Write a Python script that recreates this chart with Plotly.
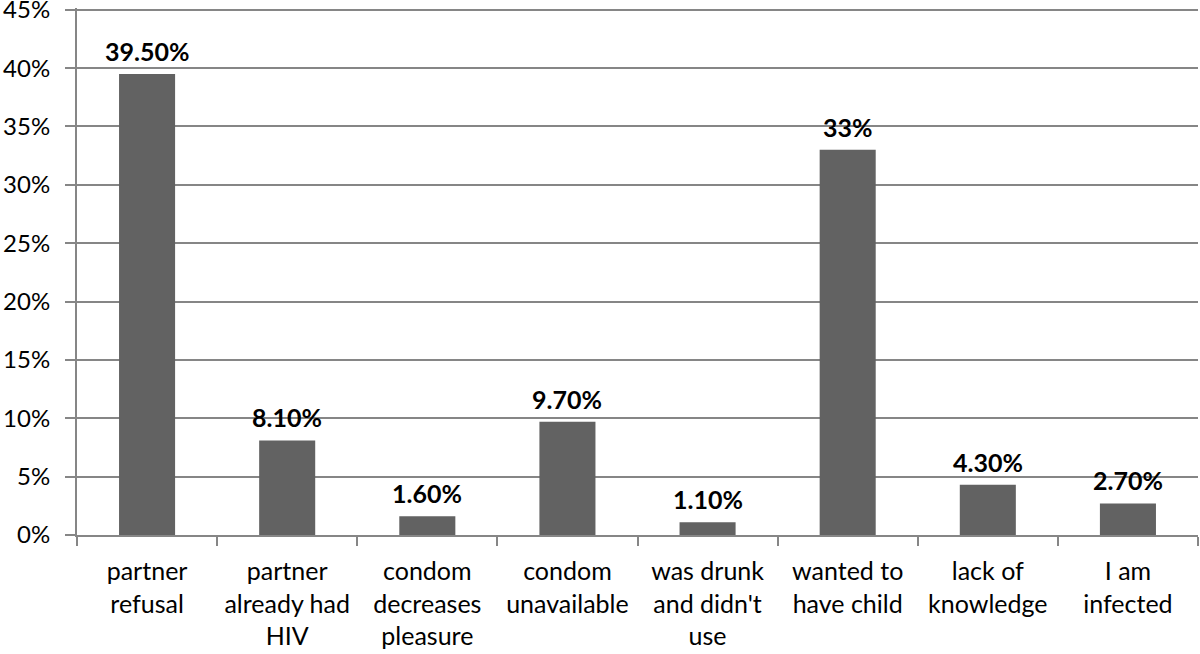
import plotly.graph_objects as go

categories = ["partner<br>refusal", "partner<br>already had<br>HIV", "condom<br>decreases<br>pleasure",
              "condom<br>unavailable", "was drunk<br>and didn't<br>use", "wanted to<br>have child",
              "lack of<br>knowledge", "I am<br>infected"]
values = [39.5, 8.1, 1.6, 9.7, 1.1, 33.0, 4.3, 2.7]
value_labels = ["39.50%", "8.10%", "1.60%", "9.70%", "1.10%", "33%", "4.30%", "2.70%"]
y_ticks = [0, 5, 10, 15, 20, 25, 30, 35, 40, 45]
y_tick_labels = ["0%", "5%", "10%", "15%", "20%", "25%", "30%", "35%", "40%", "45%"]

FONT = "Lato"

fig = go.Figure()
fig.add_trace(go.Bar(x=categories, y=values, marker=dict(color="#626262", line=dict(width=0)),
                     hoverinfo="skip"))

for c, v, t in zip(categories, values, value_labels):
    fig.add_annotation(x=c, y=v, text="<b>%s</b>" % t, showarrow=False, yanchor="bottom",
                       yshift=6, font=dict(family=FONT, size=25, color="#000000"))

fig.update_layout(
    width=1200, height=654,
    margin=dict(l=77, r=2, t=8, b=119),
    plot_bgcolor="white", paper_bgcolor="white",
    bargap=0.6, showlegend=False,
    font=dict(family=FONT, size=25, color="#000000"),
)
fig.update_xaxes(showline=True, linecolor="#868686", linewidth=2, ticks="outside", ticklen=9,
                 tickcolor="#868686", tickwidth=2, tickson="boundaries", showgrid=False,
                 tickangle=0, tickfont=dict(family=FONT, size=25), ticklabelstandoff=13,
                 automargin=False, ticklabeloverflow="allow")
fig.update_yaxes(range=[0, 45.15], tickvals=y_ticks, ticktext=y_tick_labels, showgrid=True,
                 gridcolor="#868686", gridwidth=2, showline=True, linecolor="#868686", linewidth=2,
                 ticks="outside", ticklen=10, tickcolor="#868686", tickwidth=2, zeroline=False,
                 tickfont=dict(family=FONT, size=24), ticklabelstandoff=10, automargin=False,
                 ticklabeloverflow="allow")

fig.write_html("out.html", config={"displayModeBar": False},
               post_script="document.body.style.margin='0';")
